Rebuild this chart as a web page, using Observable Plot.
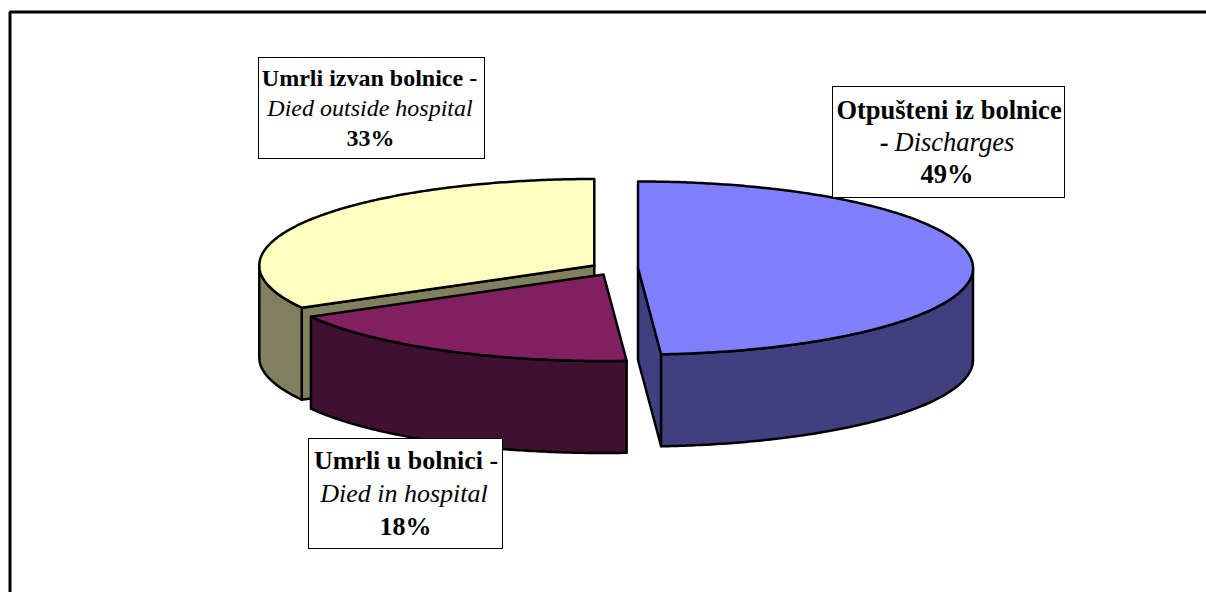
<!DOCTYPE html>
<html>
<head>
<meta charset="utf-8">
<script src="https://cdn.jsdelivr.net/npm/d3@7"></script>
<script src="https://cdn.jsdelivr.net/npm/@observablehq/plot@0.6"></script>
<style>html,body{margin:0;padding:0;background:#fff;overflow:hidden}svg{display:block}</style>
</head>
<body>
<div id="chart"></div>
<script>
// Data
const categories = ["Otpušteni iz bolnice", "Umrli u bolnici -", "Umrli izvan bolnice -"];
const shares = [48.9, 18, 33.1];
const percentLabels = ["49%", "18%", "33%"];
const englishLabels = ["Discharges", "Died in hospital", "Died outside hospital"];

// Styles
const topColors = ["#8080FF", "#802060", "#FFFFC0"];
const sideColors = ["#404080", "#401030", "#808060"];

// Layout of the exploded pie, in page pixels
const rx = 335, ry = 86.5, depth = 92;
const centers = [[637.5, 267.5], [603, 274], [593.8, 265]];
const boxes = [
  {x1: 832.5, x2: 1064.5, y1: 86.5, y2: 197.5, size: 26.5, base: [118, 150, 182], xc: 948.5, xi: 948, xp: 946.5},
  {x1: 308.5, x2: 502.5, y1: 438.5, y2: 548.5, size: 26, base: [468, 501, 534], xc: 405.5, xi: 403.5, xp: 405},
  {x1: 258.5, x2: 484.5, y1: 57.5, y2: 158.5, size: 24, base: [85, 115, 145], xc: 369, xi: 369.5, xp: 370}
];

// Geometry derived from the shares: angles clockwise from the top
const total = d3.sum(shares);
const cum = [0, ...d3.cumsum(shares)].map(v => v / total * 2 * Math.PI);
const pt = (c, a, dz = 0) => ({x: c[0] + rx * Math.sin(a), y: c[1] - ry * Math.cos(a) + dz});
const arc = (c, a0, a1, dz = 0) => {
  const n = Math.max(2, Math.ceil(Math.abs(a1 - a0) / 0.01));
  return d3.range(n + 1).map(i => pt(c, a0 + (a1 - a0) * i / n, dz));
};
const close = p => [...p, p[0]];
const apex = (c, dz = 0) => ({x: c[0], y: c[1] + dz});

const shape = (points, fill, sw = 2.5) =>
  Plot.line(close(points), {x: "x", y: "y", fill, stroke: "#000", strokeWidth: sw, strokeLinejoin: "round", curve: "linear"});

const sliceMarks = [];
const drawOrder = [2, 1, 0];
for (const i of drawOrder) {
  const c = centers[i], a0 = cum[i], a1 = cum[i + 1];
  // Visible part of the rim: the lower half of the ellipse
  const r0 = Math.max(a0, Math.PI / 2), r1 = Math.min(a1, 3 * Math.PI / 2);
  const rim = [...arc(c, r0, r1), ...arc(c, r1, r0, depth)];
  // Radial cut walls, facing the gap
  if (i === 2) sliceMarks.push(shape([apex(c), pt(c, a0), pt(c, a0, depth), apex(c, depth)], sideColors[i]));
  if (i === 0) sliceMarks.push(shape([apex(c), pt(c, a1), pt(c, a1, depth), apex(c, depth)], sideColors[i]));
  sliceMarks.push(shape(rim, sideColors[i]));
  sliceMarks.push(shape([apex(c), ...arc(c, a0, a1)], topColors[i]));
}

const textMark = (text, x, y, size, weight, style, anchor = "middle") =>
  Plot.text([text], {x: () => x, y: () => y, text: d => d, fontSize: size, fontWeight: weight, fontStyle: style,
    fontFamily: "Liberation Serif", fill: "#000", textAnchor: anchor, lineAnchor: "bottom", dy: 0});

const labelMarks = [];
boxes.forEach((b, i) => {
  labelMarks.push(Plot.rect([b], {x1: "x1", x2: "x2", y1: "y1", y2: "y2", fill: "#fff", stroke: "#000", strokeWidth: 1}));
  labelMarks.push(textMark(categories[i], b.xc, b.base[0], b.size, "bold", "normal"));
  if (i === 0) {
    labelMarks.push(textMark("-", 888, b.base[1], b.size, "bold", "normal", "end"));
    labelMarks.push(textMark(englishLabels[i], 894, b.base[1], b.size, "normal", "italic", "start"));
  } else {
    labelMarks.push(textMark(englishLabels[i], b.xi, b.base[1], b.size, "normal", "italic"));
  }
  labelMarks.push(textMark(percentLabels[i], b.xp, b.base[2], b.size, "bold", "normal"));
});

const frame = [{x: 1206, y: 11.5}, {x: 9.5, y: 11.5}, {x: 9.5, y: 592}];

const chart = Plot.plot({
  width: 1206,
  height: 592,
  margin: 0,
  x: {domain: [0, 1206], range: [0, 1206], axis: null},
  y: {domain: [0, 592], range: [0, 592], axis: null},
  style: {background: "#fff"},
  marks: [
    Plot.line(frame, {x: "x", y: "y", stroke: "#000", strokeWidth: 3, strokeLinejoin: "miter", curve: "linear"}),
    ...sliceMarks,
    ...labelMarks
  ]
});
document.getElementById("chart").append(chart);
</script>
</body>
</html>
